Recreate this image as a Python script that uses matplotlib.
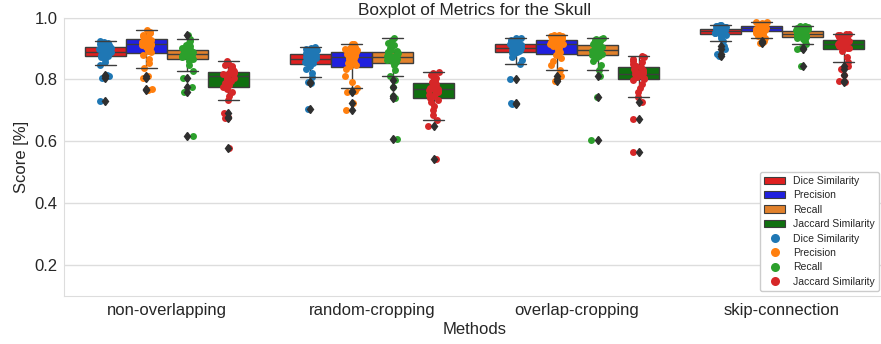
import numpy as np
import matplotlib
matplotlib.use("Agg")
import matplotlib.pyplot as plt
from matplotlib.patches import Patch
from matplotlib.lines import Line2D
import seaborn as sns

methods = ["non-overlapping", "random-cropping", "overlap-cropping", "skip-connection"]
metrics = ["Dice Similarity", "Precision", "Recall", "Jaccard Similarity"]

# --- non-overlapping ---
no_dice = [0.730, 0.805, 0.810, 0.815, 0.845, 0.856, 0.866, 0.872, 0.875, 0.878, 0.880, 0.882,
           0.884, 0.886, 0.888, 0.889, 0.890, 0.892, 0.894, 0.896, 0.898, 0.900, 0.902, 0.903,
           0.905, 0.907, 0.909, 0.911, 0.914, 0.917, 0.920, 0.924]
no_prec = [0.765, 0.770, 0.806, 0.812, 0.838, 0.852, 0.866, 0.880, 0.887, 0.893, 0.898, 0.902,
           0.905, 0.908, 0.910, 0.912, 0.914, 0.916, 0.918, 0.920, 0.922, 0.924, 0.926, 0.928,
           0.932, 0.935, 0.938, 0.941, 0.945, 0.949, 0.954, 0.959]
no_rec = [0.616, 0.758, 0.775, 0.806, 0.828, 0.845, 0.858, 0.866, 0.868, 0.871, 0.873, 0.875,
          0.877, 0.878, 0.879, 0.880, 0.882, 0.884, 0.886, 0.888, 0.890, 0.892, 0.893, 0.894,
          0.898, 0.902, 0.907, 0.912, 0.918, 0.925, 0.932, 0.945]
no_jac = [0.577, 0.675, 0.680, 0.690, 0.732, 0.745, 0.758, 0.770, 0.777, 0.783, 0.789, 0.794,
          0.799, 0.803, 0.806, 0.809, 0.811, 0.813, 0.815, 0.817, 0.819, 0.821, 0.822, 0.823,
          0.827, 0.831, 0.835, 0.839, 0.843, 0.848, 0.853, 0.859]
# --- random-cropping ---
rc_dice = [0.703, 0.787, 0.791, 0.807, 0.820, 0.832, 0.842, 0.849, 0.852, 0.855, 0.857, 0.859,
           0.861, 0.863, 0.865, 0.866, 0.868, 0.869, 0.871, 0.873, 0.875, 0.877, 0.879, 0.880,
           0.884, 0.887, 0.890, 0.893, 0.896, 0.899, 0.902, 0.905]
rc_prec = [0.700, 0.725, 0.758, 0.762, 0.772, 0.790, 0.812, 0.835, 0.842, 0.848, 0.853, 0.857,
           0.861, 0.865, 0.868, 0.871, 0.873, 0.875, 0.877, 0.879, 0.881, 0.883, 0.885, 0.887,
           0.891, 0.895, 0.899, 0.903, 0.906, 0.909, 0.913, 0.916]
rc_rec = [0.608, 0.741, 0.746, 0.775, 0.797, 0.810, 0.830, 0.848, 0.856, 0.860, 0.863, 0.865,
          0.867, 0.869, 0.870, 0.871, 0.873, 0.875, 0.877, 0.879, 0.882, 0.885, 0.887, 0.888,
          0.892, 0.896, 0.900, 0.905, 0.911, 0.918, 0.926, 0.934]
rc_jac = [0.544, 0.650, 0.668, 0.685, 0.700, 0.714, 0.726, 0.735, 0.740, 0.745, 0.750, 0.754,
          0.758, 0.762, 0.765, 0.767, 0.769, 0.771, 0.773, 0.775, 0.777, 0.780, 0.783, 0.786,
          0.790, 0.795, 0.800, 0.805, 0.810, 0.815, 0.820, 0.825]
# --- overlap-cropping ---
oc_dice = [0.720, 0.724, 0.800, 0.850, 0.862, 0.872, 0.880, 0.886, 0.888, 0.890, 0.892, 0.894,
           0.896, 0.897, 0.898, 0.899, 0.901, 0.902, 0.904, 0.906, 0.908, 0.910, 0.911, 0.912,
           0.916, 0.919, 0.922, 0.925, 0.928, 0.931, 0.933, 0.935]
oc_prec = [0.795, 0.800, 0.810, 0.830, 0.845, 0.858, 0.870, 0.879, 0.885, 0.890, 0.895, 0.900,
           0.905, 0.909, 0.912, 0.914, 0.916, 0.918, 0.920, 0.921, 0.922, 0.923, 0.924, 0.925,
           0.929, 0.932, 0.935, 0.937, 0.939, 0.941, 0.943, 0.945]
oc_rec = [0.605, 0.744, 0.812, 0.829, 0.845, 0.858, 0.868, 0.875, 0.878, 0.881, 0.884, 0.886,
          0.888, 0.890, 0.892, 0.893, 0.895, 0.897, 0.899, 0.901, 0.904, 0.906, 0.908, 0.910,
          0.914, 0.917, 0.920, 0.923, 0.926, 0.929, 0.931, 0.934]
oc_jac = [0.566, 0.672, 0.728, 0.743, 0.758, 0.772, 0.786, 0.797, 0.801, 0.804, 0.807, 0.810,
          0.813, 0.815, 0.817, 0.818, 0.820, 0.822, 0.824, 0.827, 0.830, 0.833, 0.836, 0.839,
          0.843, 0.847, 0.851, 0.856, 0.861, 0.866, 0.871, 0.877]
# --- skip-connection ---
sc_dice = [0.877, 0.883, 0.897, 0.907, 0.924, 0.933, 0.940, 0.945, 0.948, 0.950, 0.951, 0.952,
           0.953, 0.954, 0.955, 0.956, 0.957, 0.958, 0.959, 0.960, 0.961, 0.962, 0.9625, 0.963,
           0.964, 0.966, 0.968, 0.970, 0.972, 0.974, 0.976, 0.977]
sc_prec = [0.918, 0.921, 0.925, 0.934, 0.941, 0.947, 0.951, 0.955, 0.957, 0.958, 0.959, 0.960,
           0.961, 0.962, 0.963, 0.964, 0.966, 0.967, 0.968, 0.969, 0.970, 0.9705, 0.971, 0.9715,
           0.974, 0.976, 0.978, 0.980, 0.982, 0.983, 0.985, 0.986]
sc_rec = [0.843, 0.899, 0.902, 0.916, 0.923, 0.929, 0.934, 0.937, 0.939, 0.940, 0.941, 0.942,
          0.944, 0.945, 0.946, 0.947, 0.949, 0.950, 0.951, 0.953, 0.954, 0.955, 0.956, 0.957,
          0.960, 0.962, 0.964, 0.966, 0.968, 0.970, 0.972, 0.974]
sc_jac = [0.790, 0.795, 0.813, 0.832, 0.843, 0.857, 0.872, 0.893, 0.900, 0.903, 0.905, 0.907,
          0.909, 0.911, 0.913, 0.914, 0.916, 0.917, 0.919, 0.921, 0.923, 0.925, 0.927, 0.928,
          0.931, 0.934, 0.937, 0.940, 0.942, 0.944, 0.946, 0.948]

data = [
    [no_dice, no_prec, no_rec, no_jac],
    [rc_dice, rc_prec, rc_rec, rc_jac],
    [oc_dice, oc_prec, oc_rec, oc_jac],
    [sc_dice, sc_prec, sc_rec, sc_jac],
]

box_colors = ["#df2020", "#2020df", "#e1812c", "#107010"]
point_colors = ["#1f77b4", "#ff7f0e", "#2ca02c", "#d62728"]
line_col = "#3d3d3d"

sns.set_style("whitegrid")
plt.rcParams["font.family"] = ["Liberation Sans", "DejaVu Sans"]

fig = plt.figure(figsize=(8.81, 3.44), dpi=100)
ax = fig.add_axes([0.0732, 0.1395, 0.9308, 0.8096])

n_h = len(metrics)
bw = 0.8 / n_h
rng = np.random.default_rng(3)
for i, m in enumerate(methods):
    for j in range(n_h):
        vals = np.array(data[i][j])
        pos = i - 0.4 + bw * (j + 0.5)
        bp = ax.boxplot(vals, positions=[pos], widths=bw * 0.98, patch_artist=True,
                        whis=1.5, manage_ticks=False,
                        boxprops=dict(facecolor=box_colors[j], edgecolor=line_col, linewidth=1.0, zorder=2),
                        medianprops=dict(color=line_col, linewidth=1.0, zorder=2.2),
                        whiskerprops=dict(color=line_col, linewidth=1.0, zorder=2.2),
                        capprops=dict(color=line_col, linewidth=1.0, zorder=4),
                        flierprops=dict(marker="d", markerfacecolor="#2f2f2f", markeredgecolor="#2f2f2f",
                                        markersize=4.5, linestyle="none", zorder=4))
        jit = rng.uniform(-0.03, 0.03, len(vals))
        ax.scatter(pos + jit, vals, s=25, color=point_colors[j], linewidths=0, zorder=3)

ax.set_xlim(-0.5, len(methods) - 0.5)
ax.set_ylim(0.1, 1.0)
ax.set_xticks(range(len(methods)))
ax.set_xticklabels(methods, fontsize=12)
ax.set_yticks([0.2, 0.4, 0.6, 0.8, 1.0])
ax.set_yticklabels(["0.2", "0.4", "0.6", "0.8", "1.0"], fontsize=12)
ax.tick_params(axis="both", length=0, pad=5)
ax.xaxis.grid(False)
ax.yaxis.grid(True, color="#dddddd", linewidth=1.0)
ax.set_axisbelow(True)
for s in ax.spines.values():
    s.set_color("#dddddd")
ax.set_xlabel("Methods", fontsize=12, labelpad=3)
ax.set_ylabel("Score [%]", fontsize=12)
ax.set_title("Boxplot of Metrics for the Skull", fontsize=12.4, pad=2)

handles = [Patch(facecolor=c, edgecolor=line_col, linewidth=0.8) for c in box_colors]
handles += [Line2D([], [], marker="o", linestyle="none", markersize=6.5, markerfacecolor=c,
                   markeredgewidth=0, color=c) for c in point_colors]
labels = metrics + metrics
ax.legend(handles, labels, loc="lower right", fontsize=7.5, labelspacing=0.42,
          frameon=True, framealpha=1.0, edgecolor="#cccccc", fancybox=True)

fig.savefig("out.png", dpi=100)
